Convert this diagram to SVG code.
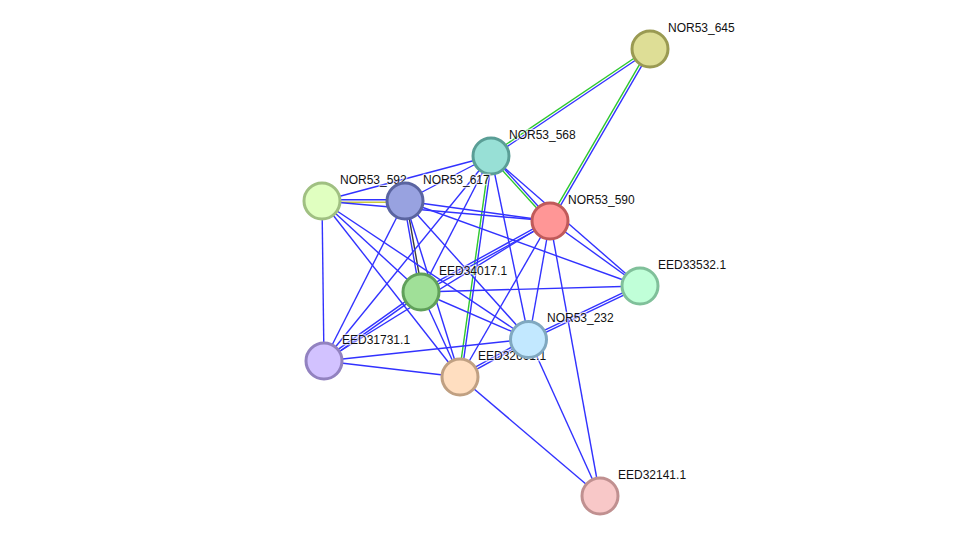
<svg xmlns="http://www.w3.org/2000/svg" width="976" height="542" viewBox="0 0 976 542">
<style>
.e line{stroke-width:1.4;fill:none}
.b{stroke:#3232ff}
.g{stroke:#2ec82e}
.y{stroke:#c8c83c}
.k{stroke:#3a3a3a}
.n circle{stroke-width:3}
.n text{font-family:"Liberation Sans",Arial,sans-serif;font-size:12px;fill:#111;stroke:#fff;stroke-width:2.5;stroke-opacity:0.6;paint-order:stroke}
</style>
<rect width="976" height="542" fill="#fff"/>
<g id="connectors" class="e">
<line class="g" x1="649.3" y1="48" x2="490.3" y2="155"/>
<line class="b" x1="650.7" y1="50" x2="491.7" y2="157"/>
<line class="g" x1="648.9" y1="48.4" x2="548.9" y2="220.4"/>
<line class="b" x1="651.1" y1="49.6" x2="551.1" y2="221.6"/>
<line class="b" x1="491.9" y1="155.2" x2="550.9" y2="220.2"/>
<line class="g" x1="490.1" y1="156.8" x2="549.1" y2="221.8"/>
<line class="g" x1="489.8" y1="155.8" x2="458.8" y2="376.8"/>
<line class="b" x1="492.2" y1="156.2" x2="461.2" y2="377.2"/>
<line class="b" x1="322" y1="199.8" x2="405" y2="199.8"/>
<line class="y" x1="322" y1="202.2" x2="405" y2="202.2"/>
<line class="b" x1="403.8" y1="201.2" x2="419.8" y2="292.2"/>
<line class="k" x1="406.2" y1="200.8" x2="422.2" y2="291.8"/>
<line class="b" x1="420.4" y1="290.9" x2="549.4" y2="219.9"/>
<line class="b" x1="421.6" y1="293.1" x2="550.6" y2="222.1"/>
<line class="b" x1="528.5" y1="337.9" x2="639.5" y2="284.9"/>
<line class="b" x1="529.5" y1="340.1" x2="640.5" y2="287.1"/>
<line class="b" x1="459.4" y1="375.9" x2="528.4" y2="337.9"/>
<line class="b" x1="460.6" y1="378.1" x2="529.6" y2="340.1"/>
<line class="b" x1="323.4" y1="359.9" x2="420.4" y2="290.9"/>
<line class="b" x1="324.6" y1="362.1" x2="421.6" y2="293.1"/>
<line class="b" x1="491" y1="156" x2="322" y2="201"/>
<line class="b" x1="491" y1="156" x2="405" y2="201"/>
<line class="b" x1="491" y1="156" x2="421" y2="292"/>
<line class="b" x1="491" y1="156" x2="324" y2="361"/>
<line class="b" x1="491" y1="156" x2="529" y2="339"/>
<line class="b" x1="491" y1="156" x2="640" y2="286"/>
<line class="b" x1="322" y1="201" x2="550" y2="221"/>
<line class="b" x1="322" y1="201" x2="421" y2="292"/>
<line class="b" x1="322" y1="201" x2="529" y2="339"/>
<line class="b" x1="322" y1="201" x2="460" y2="377"/>
<line class="b" x1="322" y1="201" x2="324" y2="361"/>
<line class="b" x1="405" y1="201" x2="550" y2="221"/>
<line class="b" x1="405" y1="201" x2="640" y2="286"/>
<line class="b" x1="405" y1="201" x2="529" y2="339"/>
<line class="b" x1="405" y1="201" x2="460" y2="377"/>
<line class="b" x1="405" y1="201" x2="324" y2="361"/>
<line class="b" x1="421" y1="292" x2="640" y2="286"/>
<line class="b" x1="421" y1="292" x2="529" y2="339"/>
<line class="b" x1="421" y1="292" x2="460" y2="377"/>
<line class="b" x1="550" y1="221" x2="529" y2="339"/>
<line class="b" x1="550" y1="221" x2="460" y2="377"/>
<line class="b" x1="550" y1="221" x2="600" y2="496"/>
<line class="b" x1="550" y1="221" x2="640" y2="286"/>
<line class="b" x1="550" y1="221" x2="324" y2="361"/>
<line class="b" x1="529" y1="339" x2="324" y2="361"/>
<line class="b" x1="529" y1="339" x2="600" y2="496"/>
<line class="b" x1="460" y1="377" x2="600" y2="496"/>
<line class="b" x1="460" y1="377" x2="324" y2="361"/>
</g>
<g id="NOR53_645" class="n"><circle cx="650" cy="49" r="18" fill="#dede96" stroke="#9a9a52"/><text x="668" y="32">NOR53_645</text></g>
<g id="NOR53_568" class="n"><circle cx="491" cy="156" r="18" fill="#98e0d6" stroke="#5a9e96"/><text x="509" y="139">NOR53_568</text></g>
<g id="NOR53_590" class="n"><circle cx="550" cy="221" r="18" fill="#ff9696" stroke="#c05a5a"/><text x="568" y="204">NOR53_590</text></g>
<g id="NOR53_592" class="n"><circle cx="322" cy="201" r="18" fill="#e0ffc0" stroke="#a0c082"/><text x="340" y="184">NOR53_592</text></g>
<g id="NOR53_617" class="n"><circle cx="405" cy="201" r="18" fill="#98a2e0" stroke="#5a64a0"/><text x="423" y="184">NOR53_617</text></g>
<g id="EED34017.1" class="n"><circle cx="421" cy="292" r="18" fill="#a0e098" stroke="#60a05a"/><text x="439" y="275">EED34017.1</text></g>
<g id="EED33532.1" class="n"><circle cx="640" cy="286" r="18" fill="#c0ffd8" stroke="#80c09a"/><text x="658" y="269">EED33532.1</text></g>
<g id="EED31731.1" class="n"><circle cx="324" cy="361" r="18" fill="#d2c2ff" stroke="#9282c0"/><text x="342" y="344">EED31731.1</text></g>
<g id="EED32661.1" class="n"><circle cx="460" cy="377" r="18" fill="#ffdec0" stroke="#c0a082"/><text x="478" y="360">EED32661.1</text></g>
<g id="NOR53_232" class="n"><circle cx="528.5" cy="339.5" r="18" fill="#c2e8ff" stroke="#80a8c0"/><text x="547" y="322">NOR53_232</text></g>
<g id="EED32141.1" class="n"><circle cx="600" cy="496" r="18" fill="#f8c8c8" stroke="#c09090"/><text x="618" y="479">EED32141.1</text></g>
</svg>
